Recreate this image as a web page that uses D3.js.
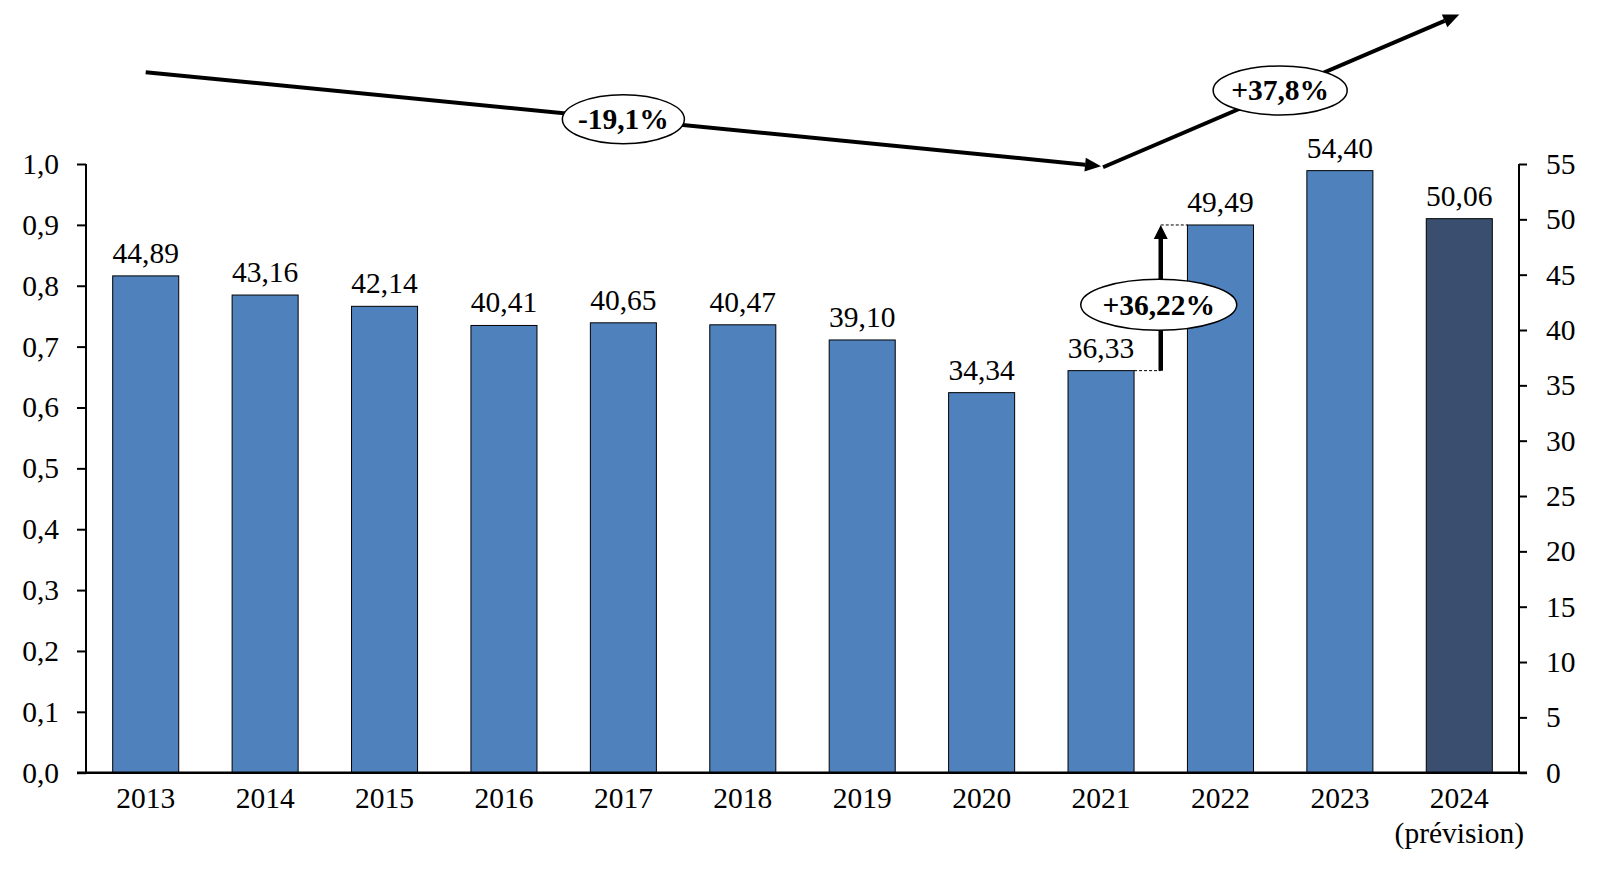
<!DOCTYPE html>
<html>
<head>
<meta charset="utf-8">
<script src="https://cdn.jsdelivr.net/npm/d3@7"></script>
<style>
  body { margin: 0; background: #fff; }
  svg text { font-family: "Liberation Serif", "DejaVu Serif", serif; fill: #000; }
</style>
</head>
<body>
<svg id="chart" width="1597" height="870"></svg>
<script>
// data
const years = ['2013', '2014', '2015', '2016', '2017', '2018', '2019', '2020', '2021', '2022', '2023', '2024'];
const yearNotes = ['', '', '', '', '', '', '', '', '', '', '', '(prévision)'];
const values = [44.89, 43.16, 42.14, 40.41, 40.65, 40.47, 39.10, 34.34, 36.33, 49.49, 54.40, 50.06];
const leftTicks = [0, 0.1, 0.2, 0.3, 0.4, 0.5, 0.6, 0.7, 0.8, 0.9, 1.0];
const rightTicks = [0, 5, 10, 15, 20, 25, 30, 35, 40, 45, 50, 55];
// trend arrows: [year, level on right axis]
const trendDown = [['2013', 63.3], ['2021', 54.8]];
const trendUp = [['2021', 54.8], ['2024', 68.5]];
const trendLabels = ['-19,1%', '+37,8%'];
const jumpFrom = '2021', jumpTo = '2022', jumpLabel = '+36,22%';

const fmt = d3.format('.2f');
const comma = s => s.replace('.', ',');
const fs = '29.5px';

const svg = d3.select('#chart');
const plotLeft = 86, plotRight = 1519, plotTop = 164, plotBottom = 772.7;

const x = d3.scaleBand().domain(years).range([plotLeft, plotRight]).paddingInner(0.447).paddingOuter(0.2235);
const yL = d3.scaleLinear().domain([0, 1]).range([plotBottom, plotTop]);
const yR = d3.scaleLinear().domain([0, 55]).range([plotBottom, plotTop]);

// bars
svg.append('g')
  .selectAll('rect')
  .data(values)
  .enter()
  .append('rect')
  .attr('x', (d, i) => x(years[i]))
  .attr('y', d => yR(d))
  .attr('width', x.bandwidth())
  .attr('height', d => plotBottom - yR(d))
  .attr('fill', (d, i) => (i === years.length - 1 ? '#3a4f70' : '#4f81bd'))
  .attr('stroke', '#000')
  .attr('stroke-width', 1);

// value labels
svg.append('g')
  .selectAll('text')
  .data(values)
  .enter()
  .append('text')
  .attr('x', (d, i) => x(years[i]) + x.bandwidth() / 2)
  .attr('y', d => yR(d) - 13)
  .attr('text-anchor', 'middle')
  .style('font-size', fs)
  .text(d => comma(fmt(d)));

// axes
const axisL = svg.append('g')
  .attr('transform', `translate(${plotLeft},0)`)
  .call(d3.axisLeft(yL).tickValues(leftTicks).tickSize(9).tickPadding(18).tickFormat(d => comma(d3.format('.1f')(d))));
const axisR = svg.append('g')
  .attr('transform', `translate(${plotRight},0)`)
  .call(d3.axisRight(yR).tickValues(rightTicks).tickSize(8).tickPadding(19));
[axisL, axisR].forEach(g => {
  g.select('.domain').remove();
  g.selectAll('line').attr('stroke', '#000').attr('stroke-width', 2);
  g.selectAll('text').style('font-size', fs).style('font-family', '"Liberation Serif", serif');
});
svg.append('line')
  .attr('x1', plotLeft).attr('x2', plotLeft).attr('y1', plotTop).attr('y2', plotBottom)
  .attr('stroke', '#000').attr('stroke-width', 2);
svg.append('line')
  .attr('x1', plotRight).attr('x2', plotRight).attr('y1', plotTop).attr('y2', plotBottom)
  .attr('stroke', '#000').attr('stroke-width', 2);
svg.append('line')
  .attr('x1', plotLeft - 9).attr('x2', plotRight + 8).attr('y1', plotBottom).attr('y2', plotBottom)
  .attr('stroke', '#000').attr('stroke-width', 2.5);

// x labels
const xl = svg.append('g')
  .selectAll('text')
  .data(years)
  .enter()
  .append('text')
  .attr('text-anchor', 'middle')
  .style('font-size', fs);
xl.append('tspan')
  .attr('x', d => x(d) + x.bandwidth() / 2)
  .attr('y', plotBottom + 35)
  .text(d => d);
xl.append('tspan')
  .attr('x', d => x(d) + x.bandwidth() / 2)
  .attr('y', plotBottom + 70)
  .text((d, i) => yearNotes[i]);

// arrow helper
function arrow(g, x1, y1, x2, y2, w, headLen, headHalf) {
  const dx = x2 - x1, dy = y2 - y1;
  const len = Math.sqrt(dx * dx + dy * dy);
  const ux = dx / len, uy = dy / len;
  const bx = x2 - ux * headLen, by = y2 - uy * headLen;
  g.append('line')
    .attr('x1', x1).attr('y1', y1).attr('x2', bx).attr('y2', by)
    .attr('stroke', '#000').attr('stroke-width', w);
  g.append('path')
    .attr('d', `M${x2},${y2}L${bx - uy * headHalf},${by + ux * headHalf}L${bx + uy * headHalf},${by - ux * headHalf}Z`)
    .attr('fill', '#000');
}

function bubble(g, cx, cy, rx, ry, label) {
  g.append('ellipse')
    .attr('cx', cx).attr('cy', cy).attr('rx', rx).attr('ry', ry)
    .attr('fill', '#fff').attr('stroke', '#000').attr('stroke-width', 1.5);
  g.append('text')
    .attr('x', cx).attr('y', cy + 10)
    .attr('text-anchor', 'middle')
    .style('font-size', '29.5px')
    .style('font-weight', 'bold')
    .text(label);
}

const ann = svg.append('g');
const cx = d => x(d) + x.bandwidth() / 2;

// trend arrows
[trendDown, trendUp].forEach((seg, i) => {
  const x1 = cx(seg[0][0]), y1 = yR(seg[0][1]);
  const x2 = cx(seg[1][0]), y2 = yR(seg[1][1]);
  arrow(ann, x1 + (i === 1 ? 2 : 0), y1 + (i === 1 ? 1 : 0), x2, y2, 4, 16, 7);
  bubble(ann, (x1 + x2) / 2, (y1 + y2) / 2, i === 0 ? 61 : 67, 24.5, trendLabels[i]);
});

// jump 2021 -> 2022
const a = values[years.indexOf(jumpFrom)], b = values[years.indexOf(jumpTo)];
const ax = x(jumpFrom) + x.bandwidth(), bx = x(jumpTo);
const mx = (ax + bx) / 2;
ann.append('line')
  .attr('x1', ax).attr('x2', mx).attr('y1', yR(a)).attr('y2', yR(a))
  .attr('stroke', '#000').attr('stroke-width', 1).attr('stroke-dasharray', '3,2');
ann.append('line')
  .attr('x1', mx).attr('x2', bx).attr('y1', yR(b)).attr('y2', yR(b))
  .attr('stroke', '#000').attr('stroke-width', 1).attr('stroke-dasharray', '3,2');
arrow(ann, mx, yR(a), mx, yR(b), 4.5, 14, 7);
bubble(ann, mx - 2, (yR(a) + yR(b)) / 2 + 7, 78, 25.5, jumpLabel);
</script>
</body>
</html>
